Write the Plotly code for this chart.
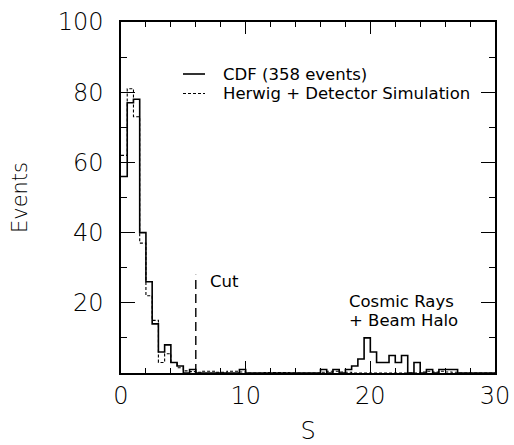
import plotly.graph_objects as go

# bin edges: 0 to 30 in steps of 0.5 (60 bins)
bin_width = 0.5
n_bins = 60
edges = [i * bin_width for i in range(n_bins + 1)]

# CDF data (events per bin)
cdf_counts = [56, 77, 78, 40, 26, 14, 6, 8, 3, 2,
              0, 1, 0, 0, 0, 0, 0, 0, 0, 1,
              0, 0, 0, 0, 0, 0, 0, 0, 0, 0,
              0, 0, 1, 0, 1, 0, 1, 2, 4, 10,
              6, 3, 3, 5, 3, 5, 0, 3, 0, 1,
              0, 1, 1, 1, 0, 0, 0, 0, 0, 0]

# Herwig + Detector Simulation (normalised)
herwig_counts = [62, 81, 73, 37, 22, 15, 3, 5.5, 3, 1.5,
                 0.6, 0.4, 0.2, 0.5, 0.5, 0.2, 0.2, 0.5, 0.5, 0.3,
                 0, 0, 0, 0.1, 0.1, 0.1, 0.1, 0, 0, 0,
                 0, 0, 0.2, 0.5, 0.5, 0.3, 0.2, 0, 0, 0,
                 0, 0, 0, 0, 0, 0, 0, 0, 0.3, 0.5,
                 0.3, 0.5, 0.3, 0.2, 0, 0, 0, 0, 0, 0]

legend_labels = ["CDF (358 events)", "Herwig + Detector Simulation"]

cut_value = 6
cut_height = 28

x_ticks = [0, 10, 20, 30]
y_ticks = [20, 40, 60, 80, 100]

FONT = "DejaVu Sans"
SOLID = dict(color="black", width=1.6)
DASHED = dict(color="black", width=1.1, dash="3px,2px")

def steps(counts):
    xs = edges[:]
    ys = list(counts) + [counts[-1]]
    return xs, ys

fig = go.Figure()
xs, ys = steps(cdf_counts)
fig.add_trace(go.Scatter(x=xs, y=ys, mode="lines", line_shape="hv",
                         line=SOLID, name=legend_labels[0], showlegend=False))
xs, ys = steps(herwig_counts)
fig.add_trace(go.Scatter(x=xs, y=ys, mode="lines", line_shape="hv",
                         line=DASHED, name=legend_labels[1], showlegend=False))
fig.add_trace(go.Scatter(x=[cut_value, cut_value], y=[0, cut_height], mode="lines",
                         line=dict(color="black", width=1.4, dash="9px,5px"),
                         showlegend=False))

txt = dict(family=FONT, size=16.5, color="black")
fig.add_annotation(x=7.0, y=26, text="Cut", showarrow=False, xanchor="left",
                   yanchor="middle", font=txt)
fig.add_annotation(x=18.1, y=20.3, text="Cosmic Rays", showarrow=False, xanchor="left",
                   yanchor="middle", font=txt)
fig.add_annotation(x=18.1, y=15.0, text="+ Beam Halo", showarrow=False, xanchor="left",
                   yanchor="middle", font=txt)

# legend drawn in axis-domain coordinates
L, W, T, H = 121, 374, 22, 351
def px(X):
    return (X - L) / W
def py(Y):
    return (T + H - Y) / H

for label, style, Y in [(legend_labels[0], SOLID, 74), (legend_labels[1], DASHED, 93.5)]:
    fig.add_shape(type="line", xref="x domain", yref="y domain",
                  x0=px(183), x1=px(205), y0=py(Y), y1=py(Y), line=style)
    fig.add_annotation(xref="x domain", yref="y domain", x=px(221), y=py(Y),
                       text=label, showarrow=False, xanchor="left", yanchor="middle",
                       font=txt)

axis_common = dict(showline=True, linecolor="black", linewidth=1.5, mirror="ticks",
                   ticks="inside", tickcolor="black", tickwidth=1.2,
                   showgrid=False, zeroline=False)

fig.update_xaxes(range=[0, 30], tickvals=x_ticks, ticklen=12,
                 minor=dict(ticks="inside", dtick=2, tick0=0, ticklen=5,
                            tickcolor="black", tickwidth=1.2, showgrid=False),
                 tickfont=dict(family=FONT, size=24, color="black", weight=200),
                 title=dict(text="S", font=dict(family=FONT, size=24, color="black", weight=200),
                            standoff=20),
                 **axis_common)
fig.update_yaxes(range=[0, 100], tickvals=y_ticks, ticklen=14,
                 minor=dict(ticks="inside", dtick=10, tick0=0, ticklen=6,
                            tickcolor="black", tickwidth=1.2, showgrid=False),
                 tickfont=dict(family=FONT, size=24, color="black", weight=200),
                 ticklabelstandoff=11,
                 title=dict(text="Events", font=dict(family=FONT, size=21, color="black", weight=200),
                            standoff=24),
                 **axis_common)

fig.update_layout(width=514, height=445,
                  margin=dict(l=121, r=19, t=22, b=72, autoexpand=False),
                  paper_bgcolor="white", plot_bgcolor="white",
                  showlegend=False)

fig.write_html("out.html")
